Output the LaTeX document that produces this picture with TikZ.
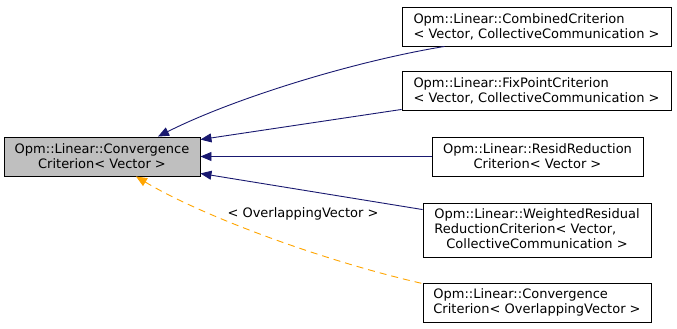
\documentclass[tikz,border=0pt]{standalone}
\usepackage{fontspec}
\setmainfont{DejaVu Sans}
\usetikzlibrary{arrows.meta}
\definecolor{edgeblue}{HTML}{191970}
\definecolor{edgeorange}{HTML}{FFA500}
\definecolor{basegray}{HTML}{BFBFBF}
\begin{document}
\begin{tikzpicture}[x=1pt,y=-1pt,
  cls/.style={draw=black, fill=white, line width=0.9pt, inner sep=0pt,
    font=\fontsize{13}{15}\selectfont, minimum height=39pt},
  inh/.style={edgeblue, line width=0.9pt, {Triangle[length=11pt,width=9pt]}-},
  tinh/.style={edgeorange, line width=0.9pt, dash pattern=on 7pt off 5pt,
    {Triangle[length=11pt,width=9pt]}-},
  lbl/.style={font=\fontsize{13}{15}\selectfont, inner sep=0pt, text=black}]
\useasboundingbox (0,0) rectangle (677,329);
\node[cls, fill=basegray, minimum width=196pt, align=center] (base) at (102,156.5)
  {Opm::Linear::Convergence\\Criterion< Vector >};
\node[cls, minimum width=269pt, align=left] (comb) at (536.5,26.5)
  {Opm::Linear::CombinedCriterion\\< Vector, CollectiveCommunication >};
\node[cls, minimum width=269pt, align=left] (fix) at (536.5,90.5)
  {Opm::Linear::FixPointCriterion\\< Vector, CollectiveCommunication >};
\node[cls, minimum width=211pt, align=center] (resid) at (537.5,156.5)
  {Opm::Linear::ResidReduction\\Criterion< Vector >};
\node[cls, minimum width=228pt, minimum height=54pt] (weight) at (537,230)
  {\begin{tabular}{@{}l@{}}Opm::Linear::WeightedResidual\\ReductionCriterion< Vector,\\\multicolumn{1}{@{}c@{}}{CollectiveCommunication >}\end{tabular}};
\node[cls, minimum width=228pt, align=left] (over) at (537,302.5)
  {Opm::Linear::Convergence\\Criterion< OverlappingVector >};
\draw[inh] ([xshift=56pt]base.north) .. controls (230,100) and (350,62) .. ([xshift=-92pt]comb.south);
\draw[inh] ([yshift=-3pt]base.north east) -- ([yshift=1pt]fix.south west);
\draw[inh] (base.east) -- (resid.west);
\draw[inh] ([yshift=3pt]base.south east) -- ([yshift=-7pt]weight.north west);
\draw[tinh] ([xshift=34pt]base.south) .. controls (200,215) and (320,260) .. ([yshift=-1pt]over.north west);
\node[lbl] (ovl) at (303,214) {< OverlappingVector >};
\end{tikzpicture}
\end{document}
